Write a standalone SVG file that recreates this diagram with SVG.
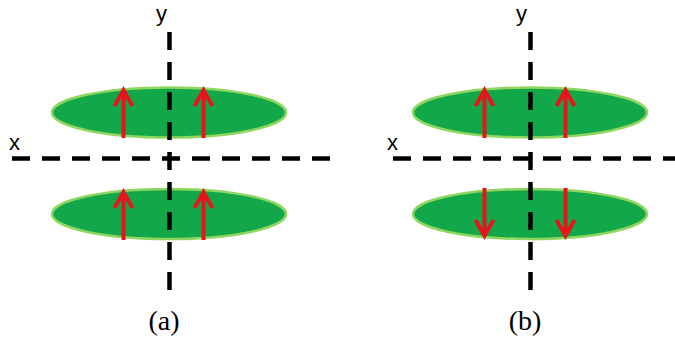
<svg xmlns="http://www.w3.org/2000/svg" width="675" height="341" viewBox="0 0 675 341">
<style>
.ell{fill:#12a84a;stroke:#8ed65f;stroke-width:2.5}
.axis{stroke:#000;stroke-width:4.5;stroke-dasharray:18 12;fill:none}
.arr{stroke:#e8141b;stroke-width:4;fill:none;stroke-linejoin:miter}
.lbl{font-family:"Liberation Sans",Arial,sans-serif;font-size:22px;fill:#000}
.cap{font-family:"Liberation Serif","DejaVu Serif",serif;font-size:28px;fill:#000;text-anchor:middle}
</style>
<g id="panel-a">
  <g id="a-ellipse-top"><ellipse class="ell" cx="169" cy="112.5" rx="117" ry="25"/></g>
  <g id="a-ellipse-bottom"><ellipse class="ell" cx="169" cy="214" rx="117" ry="25"/></g>
  <g id="a-axes">
    <line class="axis" x1="169.5" y1="32" x2="169.5" y2="292"/>
    <line class="axis" x1="12" y1="158.5" x2="332" y2="158.5"/>
  </g>
  <g id="a-arrows">
    <path class="arr" d="M123.5 138V90 M114.5 106L123.5 90L132.5 106"/>
    <path class="arr" d="M203.5 138V90 M194.5 106L203.5 90L212.5 106"/>
    <path class="arr" d="M123.5 240V192 M114.5 208L123.5 192L132.5 208"/>
    <path class="arr" d="M203.5 240V192 M194.5 208L203.5 192L212.5 208"/>
  </g>
  <text class="lbl" x="9" y="150">x</text>
  <text class="lbl" x="156" y="21">y</text>
  <text class="cap" x="164" y="330">(a)</text>
</g>
<g id="panel-b">
  <g id="b-ellipse-top"><ellipse class="ell" cx="530" cy="112.5" rx="117" ry="25"/></g>
  <g id="b-ellipse-bottom"><ellipse class="ell" cx="530" cy="214" rx="117" ry="25"/></g>
  <g id="b-axes">
    <line class="axis" x1="530.5" y1="32" x2="530.5" y2="292"/>
    <line class="axis" x1="393" y1="158.5" x2="675" y2="158.5"/>
  </g>
  <g id="b-arrows">
    <path class="arr" d="M484.5 138V90 M475.5 106L484.5 90L493.5 106"/>
    <path class="arr" d="M565.5 138V90 M556.5 106L565.5 90L574.5 106"/>
    <path class="arr" d="M484.5 188V236 M475.5 220L484.5 236L493.5 220"/>
    <path class="arr" d="M565.5 188V236 M556.5 220L565.5 236L574.5 220"/>
  </g>
  <text class="lbl" x="387" y="150">x</text>
  <text class="lbl" x="516" y="21">y</text>
  <text class="cap" x="525" y="330">(b)</text>
</g>
</svg>
